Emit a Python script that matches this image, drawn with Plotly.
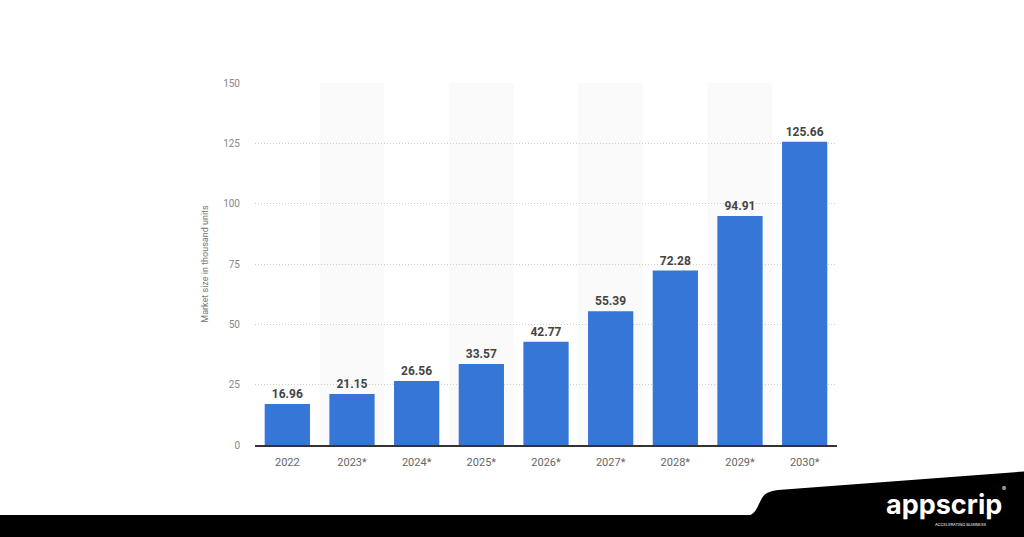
import plotly.graph_objects as go

years = ["2022", "2023*", "2024*", "2025*", "2026*", "2027*", "2028*", "2029*", "2030*"]
market_size = [16.96, 21.15, 26.56, 33.57, 42.77, 55.39, 72.28, 94.91, 125.66]
y_ticks = [0, 25, 50, 75, 100, 125, 150]

W, H = 1024, 537
L, R, T, B = 255, 837, 83, 445


def px(x):
    return (x - L) / (R - L)


def py(y):
    return (B - y) / (B - T)


fig = go.Figure()
fig.add_trace(go.Bar(
    x=years, y=market_size,
    marker=dict(color="#3676d6", line=dict(width=0)),
    text=[f"{v:.2f}" for v in market_size],
    textposition="outside",
    textfont=dict(family="Roboto", size=12, color="#444444"),
    texttemplate="<b>%{text}</b>",
    cliponaxis=False,
    hoverinfo="skip",
))

shapes = []
for i in range(1, len(years), 2):
    shapes.append(dict(type="rect", xref="x", yref="paper", x0=i - 0.5, x1=i + 0.5,
                       y0=0, y1=1, fillcolor="#fafafa", line=dict(width=0), layer="below"))

# bottom black band
shapes.append(dict(type="rect", xref="paper", yref="paper",
                   x0=px(-5), x1=px(W + 5), y0=py(515), y1=py(H + 5),
                   fillcolor="black", line=dict(width=0), layer="above"))
# right raised black tab
path = (f"M {px(748)},{py(516)} "
        f"C {px(756)},{py(514)} {px(758)},{py(505)} {px(762)},{py(498)} "
        f"C {px(765)},{py(493)} {px(770)},{py(491)} {px(778)},{py(490)} "
        f"L {px(1030)},{py(471)} L {px(1030)},{py(520)} L {px(748)},{py(520)} Z")
shapes.append(dict(type="path", xref="paper", yref="paper", path=path,
                   fillcolor="black", line=dict(width=0), layer="above"))

annotations = [
    dict(xref="paper", yref="paper", x=px(944), y=py(504), text="<b>appscrip</b>",
         showarrow=False, font=dict(family="Inter", size=27, color="white"),
         xanchor="center", yanchor="middle"),
    dict(xref="paper", yref="paper", x=px(961), y=py(524), text="ACCELERATING BUSINESS",
         showarrow=False, font=dict(family="Inter", size=4, color="white"),
         xanchor="center", yanchor="middle"),
    dict(xref="paper", yref="paper", x=px(1004), y=py(489), text="®",
         showarrow=False, font=dict(family="Inter", size=6, color="white"),
         xanchor="center", yanchor="middle"),
]

fig.update_layout(
    width=W, height=H,
    margin=dict(l=L, r=W - R, t=T, b=H - B),
    paper_bgcolor="white", plot_bgcolor="rgba(0,0,0,0)",
    bargap=0.3,
    showlegend=False,
    shapes=shapes,
    annotations=annotations,
    xaxis=dict(
        type="category", showgrid=False,
        showline=True, linecolor="#333333", linewidth=1.5,
        ticks="", tickfont=dict(family="Roboto", size=11, color="#666666"),
        ticklabelstandoff=6, fixedrange=True,
    ),
    yaxis=dict(
        range=[0, 150], tickvals=y_ticks,
        showgrid=True, gridcolor="#cfcfcf", griddash="1px,2px", gridwidth=1,
        zeroline=False, showline=False, ticks="",
        tickfont=dict(family="Roboto", size=10, color="#888888"),
        ticklabelstandoff=14,
        title=dict(text="Market size in thousand units",
                   font=dict(family="Roboto", size=9, color="#777777"), standoff=12),
        fixedrange=True,
    ),
)

fig.write_html("out.html", config={"displayModeBar": False},
               post_script="document.body.style.margin='0';document.body.style.overflow='hidden';")
